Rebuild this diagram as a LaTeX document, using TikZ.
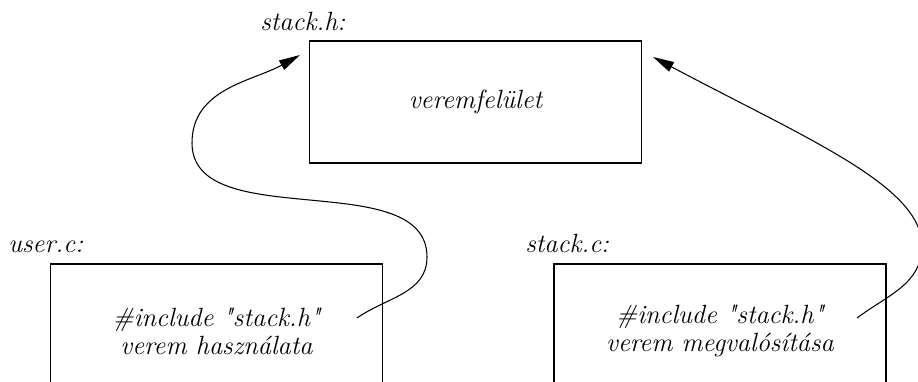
\documentclass[tikz,border=0pt]{standalone}
\usepackage{fontspec}
\usetikzlibrary{positioning}
\usetikzlibrary{arrows.meta}

\newcommand{\qt}[1]{\textquotedbl#1\textquotedbl}

\tikzset{
  filebox/.style={draw, line width=0.8pt, minimum width=6.64cm,
    inner sep=0pt, align=center,
    font=\fontsize{15}{16}\selectfont\itshape},
  filename/.style={inner sep=0pt, anchor=base west,
    font=\fontsize{15}{16}\selectfont\itshape},
  include/.style={-{Triangle[length=12pt,width=6pt]}, line width=0.6pt}
}

\begin{document}
\begin{tikzpicture}

  \useasboundingbox (0,0) rectangle (18.36,7.62);

  % the header and the two source files
  \node[filebox, minimum height=2.44cm] (stackh) at (9.51,5.58) {veremfelület};
  \node[filebox, minimum height=2.68cm] (userc) at (4.33,1.0)
    {\#include \qt{stack.h}\\verem használata};
  \node[filebox, minimum height=2.68cm] (stackc) at (14.4,1.0)
    {\#include \qt{stack.h}\\verem megvalósítása};

  \node[filename] (stackhname) at (5.2,7.0) {stack.h:};
  \node[filename] (usercname) at (0.16,2.56) {user.c:};
  \node[filename] (stackcname) at (10.5,2.56) {stack.c:};

  % include lines
  \coordinate (userout) at (7.14,1.26);
  \coordinate (stackcout) at (17.14,1.26);
  \coordinate (stackhleft) at (6.0,6.52);
  \coordinate (stackhright) at (13.06,6.48);

  \draw[include] (userout) to[out=35,in=-90] (8.54,2.48)
    to[out=90,in=-90,looseness=0.9] (3.84,4.76)
    to[out=90,in=209] (stackhleft);
  \draw[include] (stackcout) to[out=37,in=-90] (18.44,2.7)
    .. controls +(90:1.2) and +(-28:3.5) .. (stackhright);

\end{tikzpicture}
\end{document}
